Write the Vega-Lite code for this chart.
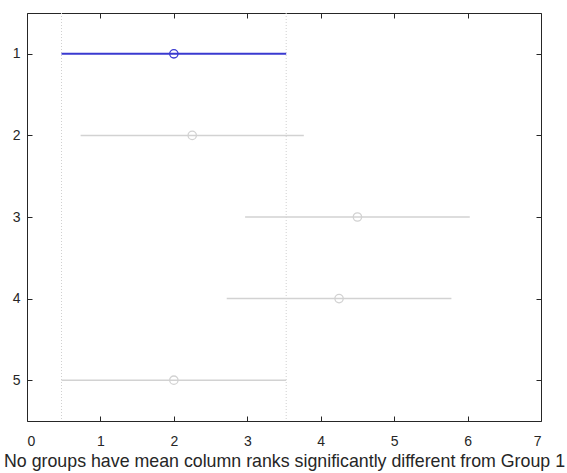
{
  "$schema": "https://vega.github.io/schema/vega-lite/v6.json",
  "autosize": "none",
  "width": 514,
  "height": 408,
  "padding": {"left": 27, "top": 13, "right": 26, "bottom": 52},
  "background": "white",
  "config": {
    "view": {"stroke": null},
    "axis": {
      "grid": false,
      "domainColor": "#262626",
      "domainWidth": 1,
      "tickColor": "#262626",
      "tickSize": -5,
      "labelColor": "#262626",
      "labelFont": "Liberation Sans",
      "labelFontSize": 14,
      "labelPadding": 12,
      "titleFont": "Liberation Sans",
      "titleFontWeight": "normal",
      "titleColor": "#262626"
    }
  },
  "datasets": {
    "groups": [
      {"group": 1, "mean": 2.0, "lo": 0.47, "hi": 3.53, "kind": "selected"},
      {"group": 2, "mean": 2.25, "lo": 0.73, "hi": 3.77, "kind": "other"},
      {"group": 3, "mean": 4.5, "lo": 2.97, "hi": 6.03, "kind": "other"},
      {"group": 4, "mean": 4.25, "lo": 2.72, "hi": 5.78, "kind": "other"},
      {"group": 5, "mean": 2.0, "lo": 0.47, "hi": 3.53, "kind": "other"}
    ],
    "bounds": [{"x": 0.47}, {"x": 3.53}]
  },
  "layer": [
    {
      "data": {"name": "bounds"},
      "mark": {"type": "rule", "color": "#d0d0d0", "strokeDash": [1, 2], "strokeWidth": 1},
      "encoding": {
        "x": {"field": "x", "type": "quantitative", "scale": {"domain": [0, 7], "nice": false, "zero": false}, "axis": null}
      }
    },
    {
      "data": {"name": "groups"},
      "mark": {"type": "rule"},
      "encoding": {
        "x": {"field": "lo", "type": "quantitative", "scale": {"domain": [0, 7], "nice": false, "zero": false},
          "axis": {"orient": "bottom", "values": [0, 1, 2, 3, 4, 5, 6, 7], "labelFontSize": 14, "labelPadding": 18, "title": "No groups have mean column ranks significantly different from Group 1", "titleFontSize": 17.8, "titlePadding": 4}},
        "x2": {"field": "hi"},
        "y": {"field": "group", "type": "quantitative", "scale": {"domain": [0.5, 5.5], "nice": false, "zero": false, "reverse": true},
          "axis": {"orient": "left", "values": [1, 2, 3, 4, 5], "labelFontSize": 14, "title": null}},
        "color": {"field": "kind", "type": "nominal", "scale": {"domain": ["selected", "other"], "range": ["#3a3ad0", "#d2d2d2"]}, "legend": null},
        "strokeWidth": {"field": "kind", "type": "nominal", "scale": {"domain": ["selected", "other"], "range": [2, 1.5]}, "legend": null}
      }
    },
    {
      "data": {"name": "groups"},
      "mark": {"type": "point", "shape": "circle", "filled": false, "size": 70, "strokeWidth": 1.3},
      "encoding": {
        "x": {"field": "mean", "type": "quantitative", "scale": {"domain": [0, 7], "nice": false, "zero": false},
          "axis": {"orient": "top", "values": [0, 1, 2, 3, 4, 5, 6, 7], "labels": false, "title": null}},
        "y": {"field": "group", "type": "quantitative", "scale": {"domain": [0.5, 5.5], "nice": false, "zero": false, "reverse": true},
          "axis": {"orient": "right", "values": [1, 2, 3, 4, 5], "labels": false, "title": null}},
        "color": {"field": "kind", "type": "nominal", "scale": {"domain": ["selected", "other"], "range": ["#3a3ad0", "#c8c8c8"]}, "legend": null},
        "opacity": {"value": 1}
      }
    }
  ],
  "resolve": {"axis": {"x": "independent", "y": "independent"}}
}
